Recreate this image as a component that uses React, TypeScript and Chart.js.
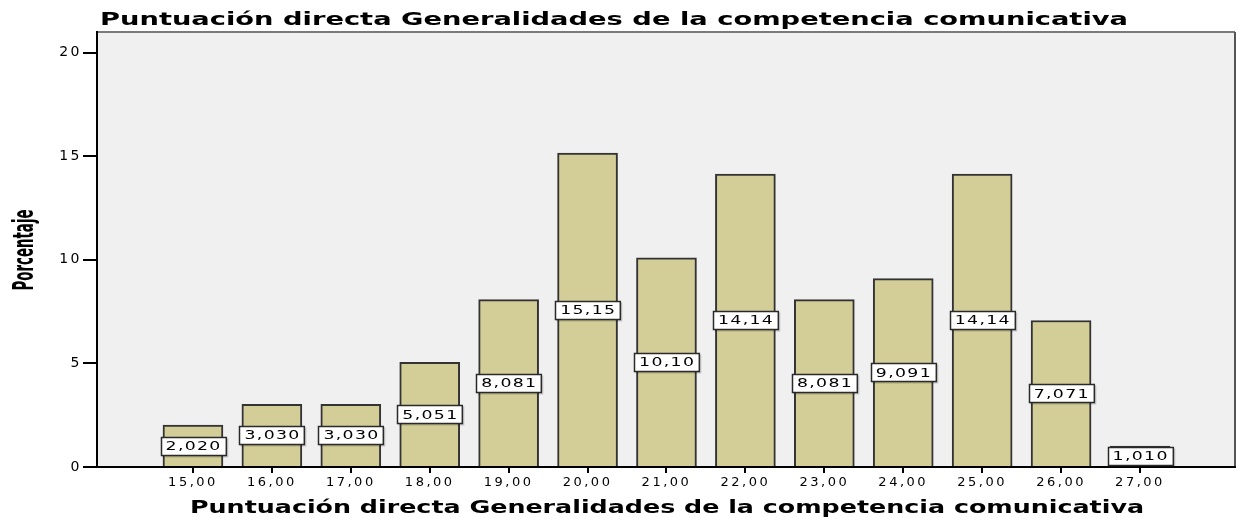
import React, { useEffect, useRef } from "react";
import { Chart, registerables } from "chart.js";

Chart.register(...registerables);

const titleText = "Puntuación directa Generalidades de la competencia comunicativa";
const xTitleText = "Puntuación directa Generalidades de la competencia comunicativa";
const yTitleText = "Porcentaje";

const categories = [15, 16, 17, 18, 19, 20, 21, 22, 23, 24, 25, 26, 27];
const xTickLabels = ["15,00", "16,00", "17,00", "18,00", "19,00", "20,00", "21,00", "22,00", "23,00", "24,00", "25,00", "26,00", "27,00"];
const values = [2.02, 3.03, 3.03, 5.051, 8.081, 15.15, 10.1, 14.14, 8.081, 9.091, 14.14, 7.071, 1.01];
const valueLabels = ["2,020", "3,030", "3,030", "5,051", "8,081", "15,15", "10,10", "14,14", "8,081", "9,091", "14,14", "7,071", "1,010"];
const yTicks = [0, 5, 10, 15, 20];
const yTickLabels = ["0", "5", "10", "15", "20"];

const FONT = "'DejaVu Sans', 'Liberation Sans', sans-serif";
const SPACING = 2.5;

const framePlugin = {
  id: "frame",
  beforeDraw(chart: any) {
    const { ctx, chartArea } = chart;
    ctx.save();
    ctx.fillStyle = "#ffffff";
    ctx.fillRect(0, 0, chart.width, chart.height);
    ctx.fillStyle = "#f0f0f0";
    ctx.fillRect(chartArea.left, chartArea.top, chartArea.right - chartArea.left, chartArea.bottom - chartArea.top);
    ctx.strokeStyle = "#7a7a7a";
    ctx.lineWidth = 2;
    ctx.beginPath();
    ctx.moveTo(chartArea.left, chartArea.top);
    ctx.lineTo(chartArea.right, chartArea.top);
    ctx.stroke();
    ctx.strokeStyle = "#555555";
    ctx.beginPath();
    ctx.moveTo(chartArea.right, chartArea.top);
    ctx.lineTo(chartArea.right, chartArea.bottom);
    ctx.stroke();
    ctx.restore();
    (ctx as any).letterSpacing = SPACING + "px";
  },
  beforeDatasetsDraw(chart: any) {
    (chart.ctx as any).letterSpacing = "0px";
  },
};

function drawStretched(ctx: CanvasRenderingContext2D, text: string, font: string, targetW: number, sy: number) {
  ctx.font = font;
  const w = ctx.measureText(text).width;
  ctx.scale(targetW / w, sy);
  ctx.fillText(text, 0, 0);
}

const labelPlugin = {
  id: "labelsAndTitles",
  afterDatasetsDraw(chart: any) {
    const { ctx } = chart;
    const meta = chart.getDatasetMeta(0);
    ctx.save();
    (ctx as any).letterSpacing = "1px";
    ctx.font = "13px " + FONT;
    ctx.textAlign = "left";
    ctx.textBaseline = "middle";
    const SX = 1.33;
    meta.data.forEach((el: any, i: number) => {
      const txt = valueLabels[i];
      const tw = (ctx.measureText(txt).width - 1) * SX;
      const boxW = tw + 10;
      const boxH = 18;
      const cx = el.x;
      const cy = (el.y + el.base) / 2;
      const bx = Math.round(cx - boxW / 2) + 0.5;
      const by = Math.round(cy - boxH / 2) + 0.5;
      ctx.fillStyle = "rgba(0,0,0,0.18)";
      ctx.fillRect(bx + 1, by + 1, boxW + 1, boxH + 1);
      ctx.fillStyle = "#ffffff";
      ctx.fillRect(bx, by, boxW, boxH);
      ctx.strokeStyle = "#2a2a2a";
      ctx.lineWidth = 1.5;
      ctx.strokeRect(bx, by, boxW, boxH);
      ctx.fillStyle = "#000000";
      ctx.save();
      ctx.translate(cx - tw / 2, cy + 1);
      ctx.scale(SX, 1);
      ctx.fillText(txt, 0, 0);
      ctx.restore();
    });
    ctx.restore();
  },
  afterDraw(chart: any) {
    const { ctx } = chart;
    ctx.save();
    (ctx as any).letterSpacing = "0px";
    ctx.fillStyle = "#000000";
    ctx.textAlign = "left";
    ctx.textBaseline = "alphabetic";
    ctx.save();
    ctx.translate(100, 25);
    drawStretched(ctx, titleText, "bold 16px " + FONT, 1028, 1.05);
    ctx.restore();
    ctx.save();
    ctx.translate(190, 513);
    drawStretched(ctx, xTitleText, "bold 16px " + FONT, 954, 1.05);
    ctx.restore();
    ctx.save();
    ctx.translate(33, 250);
    ctx.rotate(-Math.PI / 2);
    ctx.font = "bold 15px " + FONT;
    const w = ctx.measureText(yTitleText).width;
    ctx.scale(81 / w, 1.9);
    ctx.fillText(yTitleText, -w / 2, 0);
    ctx.restore();
    ctx.restore();
  },
};

export default function App() {
  const ref = useRef<HTMLCanvasElement | null>(null);
  useEffect(() => {
    document.body.style.margin = "0";
    const canvas = ref.current!;
    const chart = new Chart(canvas, {
      type: "bar",
      data: {
        datasets: [
          {
            data: categories.map((c, i) => ({ x: c, y: values[i] })),
            backgroundColor: "#d3cd97",
            borderColor: "#333333",
            borderWidth: 2,
            barThickness: 60,
          } as any,
        ],
      },
      options: {
        animation: false,
        responsive: false,
        devicePixelRatio: 1,
        layout: { padding: { left: 0, right: 2, top: 32, bottom: 0 } },
        plugins: {
          legend: { display: false },
          tooltip: { enabled: false },
          title: { display: false },
        },
        scales: {
          x: {
            type: "linear",
            offset: false,
            min: 13.784,
            max: 28.204,
            afterBuildTicks: (axis: any) => {
              axis.ticks = categories.map((v) => ({ value: v }));
            },
            afterFit: (s: any) => {
              s.height = 51;
            },
            ticks: {
              autoSkip: false,
              maxRotation: 0,
              padding: 2,
              color: "#000",
              font: { family: FONT, size: 13 },
              callback: (v: any) => xTickLabels[categories.indexOf(Number(v))],
            },
            grid: { offset: false, drawOnChartArea: false, drawTicks: true, tickLength: 6, color: "#000", lineWidth: 2 },
            border: { display: true, color: "#000", width: 2 },
          },
          y: {
            type: "linear",
            min: 0,
            max: 21,
            afterBuildTicks: (axis: any) => {
              axis.ticks = yTicks.map((v) => ({ value: v }));
            },
            afterFit: (s: any) => {
              s.width = 97;
            },
            ticks: {
              padding: 1,
              color: "#000",
              font: { family: FONT, size: 14 },
              callback: (v: any) => yTickLabels[yTicks.indexOf(Number(v))],
            },
            grid: { drawOnChartArea: false, drawTicks: true, tickLength: 14, color: "#000", lineWidth: 2 },
            border: { display: true, color: "#000", width: 2 },
          },
        },
      } as any,
      plugins: [framePlugin, labelPlugin],
    });
    return () => chart.destroy();
  }, []);
  return (
    <div style={{ position: "absolute", left: 0, top: 0, width: 1237, height: 518 }}>
      <canvas ref={ref} width={1237} height={518} />
    </div>
  );
}
